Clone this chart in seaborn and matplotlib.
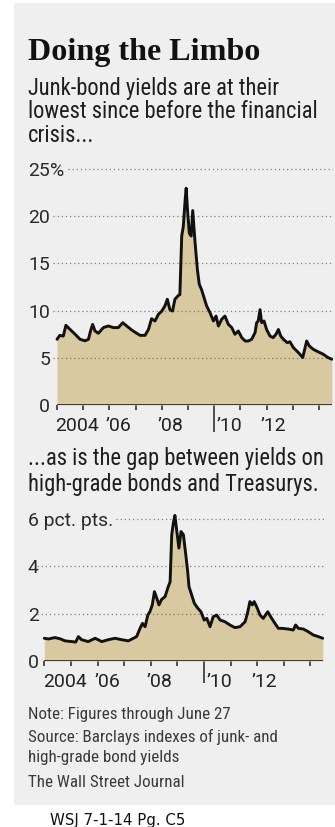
import matplotlib
matplotlib.use("Agg")
import matplotlib.pyplot as plt
import seaborn as sns
from matplotlib import font_manager as fm
from matplotlib.patches import Rectangle

# ---------------- data ----------------
junk_years = [2004.00, 2004.11, 2004.24, 2004.34, 2004.50, 2004.69, 2004.88, 2005.07, 2005.20,
              2005.28, 2005.36, 2005.45, 2005.58, 2005.77, 2005.96, 2006.15, 2006.34, 2006.51,
              2006.66, 2006.85, 2007.04, 2007.17, 2007.36, 2007.49, 2007.61, 2007.74, 2007.87,
              2008.00, 2008.12, 2008.21, 2008.31, 2008.41, 2008.50, 2008.63, 2008.69, 2008.76,
              2008.82, 2008.89, 2008.93, 2008.98, 2009.05, 2009.12, 2009.18, 2009.27, 2009.36,
              2009.43, 2009.52, 2009.61, 2009.71, 2009.84, 2009.97, 2010.07, 2010.16, 2010.29,
              2010.41, 2010.54, 2010.67, 2010.79, 2010.92, 2011.05, 2011.18, 2011.30, 2011.43,
              2011.56, 2011.62, 2011.68, 2011.75, 2011.81, 2011.90, 2012.00, 2012.13, 2012.25,
              2012.36, 2012.45, 2012.54, 2012.64, 2012.79, 2012.89, 2013.02, 2013.15, 2013.27,
              2013.38, 2013.47, 2013.53, 2013.63, 2013.78, 2013.97, 2014.16, 2014.34, 2014.49]
junk_yield = [6.96, 7.38, 7.30, 8.44, 8.00, 7.50, 6.96, 6.80, 6.96,
              7.84, 8.54, 7.84, 7.60, 8.20, 8.37, 8.20, 8.20, 8.72,
              8.37, 7.95, 7.60, 7.38, 7.38, 8.00, 9.14, 8.90, 9.60,
              9.95, 10.50, 11.20, 10.10, 9.95, 11.20, 11.60, 11.70, 17.90,
              18.90, 21.70, 22.96, 20.70, 18.20, 17.90, 20.60, 17.20, 14.30,
              12.80, 12.20, 11.40, 10.50, 9.78, 8.90, 9.42, 8.37, 9.10,
              9.42, 8.54, 8.20, 7.49, 7.84, 7.14, 6.78, 6.78, 6.96,
              7.67, 8.72, 8.90, 10.10, 8.72, 8.90, 8.00, 7.30, 7.14,
              7.50, 8.00, 7.30, 6.96, 6.60, 6.70, 6.08, 5.73, 5.38,
              5.03, 6.08, 6.78, 6.25, 5.90, 5.63, 5.38, 5.03, 4.85]

spread_years = [2004.00, 2004.15, 2004.40, 2004.59, 2004.78, 2005.03, 2005.18, 2005.28, 2005.40,
                2005.65, 2005.91, 2006.16, 2006.41, 2006.66, 2006.91, 2007.16, 2007.35, 2007.47,
                2007.60, 2007.69, 2007.79, 2007.89, 2007.97, 2008.06, 2008.14, 2008.23, 2008.31,
                2008.41, 2008.54, 2008.66, 2008.73, 2008.79, 2008.85, 2008.91, 2008.98, 2009.06,
                2009.14, 2009.23, 2009.32, 2009.39, 2009.44, 2009.54, 2009.64, 2009.77, 2009.89,
                2010.01, 2010.11, 2010.23, 2010.35, 2010.48, 2010.61, 2010.79, 2010.98, 2011.17,
                2011.36, 2011.55, 2011.65, 2011.73, 2011.82, 2011.89, 2011.98, 2012.11, 2012.23,
                2012.40, 2012.55, 2012.67, 2012.80, 2012.92, 2013.17, 2013.36, 2013.45, 2013.55,
                2013.74, 2013.92, 2014.11, 2014.30, 2014.47]
spread_pts = [0.96, 0.93, 0.99, 0.94, 0.85, 0.82, 0.80, 1.03, 0.90,
              0.82, 0.96, 0.82, 0.90, 0.96, 0.90, 0.85, 0.96, 1.03,
              1.38, 1.59, 1.45, 1.94, 2.08, 2.37, 2.93, 2.65, 2.37,
              2.60, 2.72, 3.14, 3.35, 5.33, 5.82, 6.15, 5.50, 4.77,
              5.47, 5.33, 4.48, 3.78, 3.14, 2.79, 2.44, 2.23, 2.08,
              1.73, 1.80, 1.45, 1.87, 1.94, 1.73, 1.66, 1.52, 1.41,
              1.45, 1.66, 2.08, 2.51, 2.37, 2.51, 2.30, 1.94, 1.80,
              2.08, 1.80, 1.59, 1.38, 1.38, 1.35, 1.31, 1.52, 1.38,
              1.35, 1.24, 1.10, 1.03, 0.96]

year_ticks = list(range(2004, 2015))
year_label_pos = [2004.76, 2006.36, 2008.33, 2010.58, 2012.27]
year_labels = ["2004", "\u201906", "\u201908", "\u201910", "\u201912"]

junk_yticks = [0, 5, 10, 15, 20, 25]
junk_ylabels = ["0", "5", "10", "15", "20", "25"]
spread_yticks = [0, 2, 4, 6]
spread_ylabels = ["0", "2", "4", "6 pct. pts."]

title = "Doing the Limbo"
sub1 = ["Junk-bond yields are at their", "lowest since before the financial", "crisis..."]
sub2 = ["...as is the gap between yields on", "high-grade bonds and Treasurys."]
notes = ["Note: Figures through June 27", "Source: Barclays indexes of junk- and",
         "high-grade bond yields", "The Wall Street Journal"]
footer = "WSJ 7-1-14 Pg. C5"

# ---------------- style ----------------
sns.set_style("white")
names = {f.name for f in fm.fontManager.ttflist}
SANS = "DejaVu Sans"
for cand in ["Liberation Sans Narrow", "Roboto Condensed", "Lato", "Roboto"]:
    if cand in names:
        SANS = cand
        break
TICKF = "Roboto" if "Roboto" in names else SANS
SERIF = "Liberation Serif" if "Liberation Serif" in names else "DejaVu Serif"
plt.rcParams["font.family"] = [SANS, "DejaVu Sans"]

FILL = "#d9c9a0"
BG = "#efefef"
LINE = "#111111"
GRID = "#7d7d7d"

W, H = 335, 827
fig = plt.figure(figsize=(W / 100, H / 100), dpi=100)
fig.patch.set_facecolor("white")
fig.add_artist(Rectangle((14 / W, 1 - 805 / H), 321 / W, 802 / H, transform=fig.transFigure,
                         facecolor=BG, edgecolor="none", zorder=-10))
renderer = fig.canvas.get_renderer()


def fit_size(s, target_px, family, weight="normal", base=10.0):
    t = fig.text(0, 0, s, fontsize=base, family=family, weight=weight)
    w = t.get_window_extent(renderer).width
    t.remove()
    return base * target_px / w


def put(x, y, s, size, family, weight="normal", color="#222222"):
    return fig.text(x / W, 1 - y / H, s, fontsize=size, family=family, weight=weight,
                    color=color, ha="left", va="baseline")


# ---------------- texts ----------------
fs_title = fit_size(title, 232, SERIF, "bold")
put(28, 60, title, fs_title, SERIF, "bold", "#111111")

SANSL = [SANS, "DejaVu Sans"]
fs_sub = fit_size(sub1[1], 287, SANSL)
for s, y in zip(sub1, [95, 118.5, 142.5]):
    put(28, y, s, fs_sub, SANSL, color="#1e1e1e")
for s, y in zip(sub2, [465, 491]):
    put(28, y, s, fs_sub, SANSL, color="#1e1e1e")

fs_note = fit_size(notes[1], 249, SANSL)
for s, y in zip(notes, [719, 742, 762, 787]):
    put(28, y, s, fs_note, SANSL, color="#3a3a3a")

fs_foot = fit_size(footer, 135, "DejaVu Sans")
put(50, 825, footer, fs_foot, "DejaVu Sans", color="#111111")

TICKL = [TICKF, "DejaVu Sans"]
fs_tick = fit_size("2004", 43.5, TICKL)


# ---------------- panels ----------------
def px_axes(l, t, r, b):
    return fig.add_axes([l / W, 1 - b / H, (r - l) / W, (b - t) / H])


def panel(ax, x, y, xlim, ylim, yticks, ylabels, ylab_left, long_tick_px):
    ax.set_facecolor("none")
    for sp in ax.spines.values():
        sp.set_visible(False)
    ax.fill_between(x, 0, y, color=FILL, lw=0, zorder=2)
    for v in yticks[1:]:
        ax.axhline(v, color=GRID, lw=0.9, ls=(0, (1, 2.3)), zorder=3)
    sns.lineplot(x=x, y=y, ax=ax, color=LINE, lw=2.1, estimator=None, sort=False, zorder=4)
    ax.hlines(0, x[0], x[-1], color="#222222", lw=1.2, zorder=5)
    ax.set_xlim(xlim)
    ax.set_ylim(ylim)
    ax.set_xlabel("")
    ax.set_ylabel("")
    ax.set_xticks(year_ticks)
    ax.set_xticklabels([""] * len(year_ticks))
    ax.set_xticks(year_label_pos, minor=True)
    ax.set_xticklabels(year_labels, minor=True)
    ax.tick_params(axis="x", which="major", length=3.8, width=1.1, color="#222222",
                   direction="out", bottom=True)
    ax.tick_params(axis="x", which="minor", length=0, pad=8.5, labelsize=fs_tick,
                   labelcolor="#222222", bottom=True)
    ax.set_yticks(yticks)
    ax.set_yticklabels(ylabels)
    ax.tick_params(axis="y", length=0, labelsize=fs_tick, labelcolor="#2a2a2a",
                   pad=(9 * 0.72 if ylab_left else 3 * 0.72), left=True)
    for lbl in ax.get_xticklabels(minor=True) + ax.get_yticklabels():
        lbl.set_family(TICKL)
    if ylab_left:
        for lbl in ax.get_yticklabels():
            lbl.set_ha("left")
    ax.xaxis.get_major_ticks()[6].tick1line.set_markersize(long_tick_px * 0.72)


ax1 = px_axes(53, 160, 333, 405)
x1lim = (2004 - 4 / 26.2, 2004 + 276 / 26.2)
panel(ax1, junk_years, junk_yield, x1lim, (0, 245 / 9.44), junk_yticks, junk_ylabels, False, 27)

ax2 = px_axes(37, 510, 323.6, 661)
x2lim = (2004 - 7.3 / 26.6, 2004 + (323.6 - 44.3) / 26.6)
panel(ax2, spread_years, spread_pts, x2lim, (0, 151 / 23.67), spread_yticks, spread_ylabels, True, 22)

# percent sign after the top label
pct = ax1.annotate("%", xy=(0, 25), xycoords=("axes fraction", "data"), xytext=(-3, 0),
                   textcoords="offset pixels", ha="left", va="center_baseline",
                   fontsize=fs_tick, color="#2a2a2a", family=TICKL)

# the top gridlines start after their labels
fig.canvas.draw()
bb = pct.get_window_extent(renderer)
a1 = ax1.get_window_extent(renderer)
for ln in ax1.lines:
    if len(ln.get_ydata()) == 2 and ln.get_ydata()[0] == 25 and ln.get_linestyle() != "-":
        ln.set_xdata([(bb.x1 + 4 - a1.x0) / a1.width, 1])
lbl6 = [t for t in ax2.get_yticklabels() if t.get_text().startswith("6")][0]
bb6 = lbl6.get_window_extent(renderer)
a2 = ax2.get_window_extent(renderer)
for ln in ax2.lines:
    if len(ln.get_ydata()) == 2 and ln.get_ydata()[0] == 6 and ln.get_linestyle() != "-":
        ln.set_xdata([(bb6.x1 + 3 - a2.x0) / a2.width, 1])

fig.savefig("out.png", dpi=100, facecolor="white")
